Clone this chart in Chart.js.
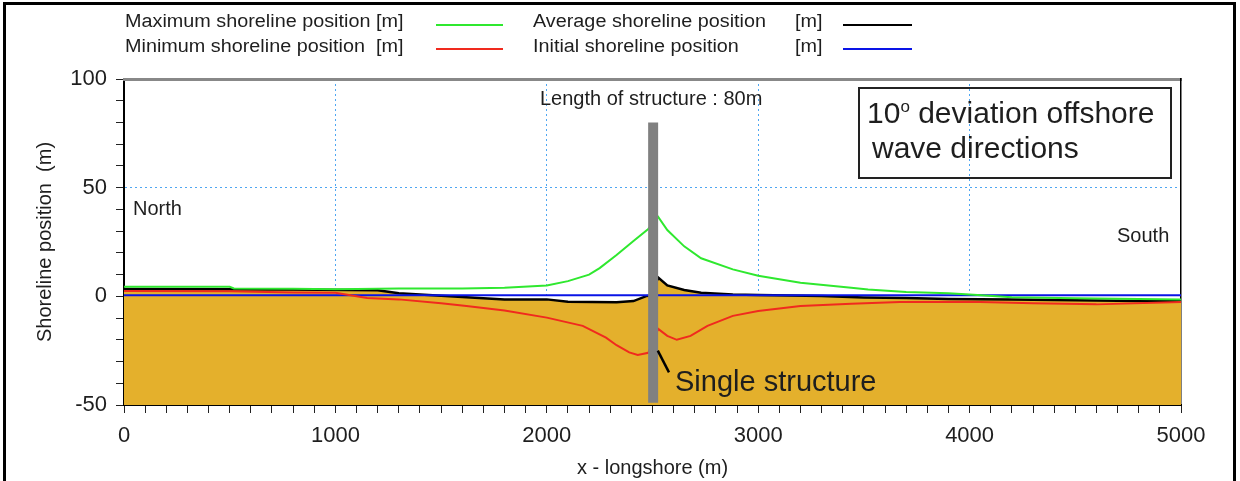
<!DOCTYPE html>
<html>
<head>
<meta charset="utf-8">
<script src="https://cdn.jsdelivr.net/npm/chart.js@4.4.0/dist/chart.umd.min.js"></script>
<style>
body{margin:0;background:#fff;font-family:"Liberation Sans",Arial,sans-serif;color:#1e1e1e}
#wrap{position:relative;width:1240px;height:481px;overflow:hidden}
#frame{position:absolute;left:3px;top:2px;width:1227px;height:500px;border:3px solid #000}
#chartShore{position:absolute;left:0;top:0}
.t{position:absolute;white-space:pre;font-size:20px;line-height:23px}
.lg{position:absolute;white-space:pre;font-size:18px;line-height:21px;transform:scaleX(1.1);transform-origin:0 0}
.sw{position:absolute;height:2px}
#box{position:absolute;left:858px;top:87px;width:310px;height:88px;border:2px solid #222}
</style>
</head>
<body>
<div id="wrap">
  <div id="frame"></div>
  <canvas id="chartShore" width="1240" height="481"></canvas>

  <!-- legend -->
  <div class="lg" style="left:125px;top:11px">Maximum shoreline position [m]</div>
  <div class="sw" style="left:436px;top:24px;width:67px;background:#2fe82f"></div>
  <div class="lg" style="left:125px;top:36px">Minimum shoreline position  [m]</div>
  <div class="sw" style="left:436px;top:48px;width:67px;background:#f02a1e"></div>
  <div class="lg" style="left:533px;top:11px">Average shoreline position</div>
  <div class="lg" style="left:795px;top:11px">[m]</div>
  <div class="sw" style="left:843px;top:24px;width:69px;background:#000"></div>
  <div class="lg" style="left:533px;top:36px">Initial shoreline position</div>
  <div class="lg" style="left:795px;top:36px">[m]</div>
  <div class="sw" style="left:843px;top:48px;width:69px;background:#0a14e6"></div>

  <!-- notes on the plot -->
  <div class="t" style="left:540px;top:87px">Length of structure : 80m</div>
  <div class="t" style="left:133px;top:197px">North</div>
  <div class="t" style="left:1117px;top:224px">South</div>
  <div class="t" style="left:675px;top:364px;font-size:29px;line-height:34px">Single structure</div>
  <div id="box"></div>
  <div class="t" style="left:867px;top:96px;font-size:30px;line-height:34px">10<span style="position:relative;top:-11px;font-size:17px">o</span> deviation offshore</div>
  <div class="t" style="left:872px;top:131px;font-size:30px;line-height:34px">wave directions</div>
</div>

<script>
// longshore positions (m) and shoreline positions (m)
const maxX = [0, 500, 520, 800, 1000, 1300, 1600, 1800, 2000, 2100, 2200, 2250, 2330, 2410, 2480,
              2527, 2570, 2650, 2730, 2880, 3000, 3200, 3440, 3520, 3700, 3900, 4000, 4200, 4500, 4800, 5000];
const maxY = [4.4, 4.4, 3.6, 3.5, 3.3, 3.6, 3.6, 4.0, 5.0, 7.0, 10.0, 13.0, 19.0, 25.5, 31.0,
              36.5, 30.5, 23.0, 17.5, 12.4, 9.5, 6.2, 4.0, 3.2, 2.0, 1.4, 0.8, -0.4, -0.9, -1.2, -1.4];

const minX = [0, 500, 800, 1000, 1150, 1300, 1500, 1620, 1800, 2000, 2170, 2280, 2330, 2390, 2430, 2480,
              2527, 2570, 2615, 2680, 2760, 2880, 3000, 3200, 3440, 3670, 4000, 4300, 4600, 5000];
const minY = [2.4, 2.3, 1.8, 1.6, -0.8, -1.4, -3.2, -4.4, -6.5, -9.8, -13.6, -19.0, -22.5, -25.8, -27.0, -26.0,
              -15.0, -18.2, -20.0, -18.2, -13.6, -9.0, -6.7, -4.4, -3.4, -2.6, -2.5, -3.2, -3.7, -2.6];

const avgX = [0, 500, 800, 1200, 1300, 1500, 1800, 2000, 2100, 2330, 2410, 2470, 2490,
              2527, 2570, 2650, 2730, 2880, 3000, 3300, 3500, 3700, 3900, 4200, 4500, 4800, 5000];
const avgY = [3.4, 3.3, 3.2, 2.8, 1.4, 0.3, -1.4, -1.4, -2.5, -2.7, -2.2, 0.1, 0.3,
              8.6, 5.0, 2.9, 1.6, 0.9, 0.6, 0.2, -0.5, -0.8, -1.2, -1.5, -1.8, -2.2, -2.3];

const initX = [0, 5000];
const initY = [0.5, 0.5];

// groyne: position and extent (m)
const structX = [2503, 2503];
const structY = [-49, 80];

const xTicks = [0, 1000, 2000, 3000, 4000, 5000];
const yTicks = [-50, 0, 50, 100];
const xGrid = [1000, 2000, 3000, 4000];
const yGrid = [50];

function pts(xs, ys) {
  return xs.map((x, i) => ({x: x, y: ys[i]}));
}

const gridBlue = '#4ea6f2';
const fontName = '"Liberation Sans", Arial, sans-serif';

// leader line from the structure to its label
const leader = {
  id: 'leader',
  afterDatasetsDraw(chart) {
    const {ctx, scales} = chart;
    ctx.save();
    ctx.strokeStyle = '#000';
    ctx.lineWidth = 2.5;
    ctx.beginPath();
    ctx.moveTo(scales.x.getPixelForValue(2525), scales.y.getPixelForValue(-25));
    ctx.lineTo(scales.x.getPixelForValue(2578), scales.y.getPixelForValue(-35));
    ctx.stroke();
    ctx.restore();
  }
};

const chartShore = document.getElementById('chartShore');

new Chart(chartShore, {
  type: 'line',
  data: {
    datasets: [{
      label: 'structure',
      data: pts(structX, structY),
      borderColor: '#808080',
      borderWidth: 10,
      borderCapStyle: 'butt',
      pointRadius: 0
    }, {
      label: 'Maximum shoreline position',
      data: pts(maxX, maxY),
      borderColor: '#2fe82f',
      borderWidth: 2,
      pointRadius: 0
    }, {
      label: 'Minimum shoreline position',
      data: pts(minX, minY),
      borderColor: '#f02a1e',
      borderWidth: 2,
      pointRadius: 0
    }, {
      label: 'Initial shoreline position',
      data: pts(initX, initY),
      borderColor: '#0a14e6',
      borderWidth: 2,
      pointRadius: 0
    }, {
      label: 'Average shoreline position',
      data: pts(avgX, avgY),
      borderColor: '#000',
      borderWidth: 2.5,
      pointRadius: 0,
      fill: 'start',
      backgroundColor: '#e4b02c'
    }]
  },
  options: {
    responsive: false,
    animation: false,
    layout: {padding: {left: 0, top: 79, right: 59, bottom: 0}},
    plugins: {
      legend: {display: false},
      tooltip: {enabled: false},
      filler: {drawTime: 'beforeDatasetsDraw'}
    },
    scales: {
      x: {
        type: 'linear',
        min: 0, max: 5000,
        afterFit: s => { s.height = 76; },
        border: {color: '#000', width: 2, dash: [2, 3]},
        grid: {
          color: c => c.tick && xGrid.includes(c.tick.value) ? gridBlue : 'rgba(0,0,0,0)',
          tickColor: '#222', tickLength: 8, lineWidth: 1
        },
        ticks: {
          stepSize: 100, autoSkip: false, maxRotation: 0, padding: 10,
          color: '#1e1e1e', font: {family: fontName, size: 22},
          callback: v => xTicks.includes(v) ? String(v) : ''
        },
        title: {
          display: true, text: 'x - longshore (m)', color: '#1e1e1e',
          font: {family: fontName, size: 20}, padding: {top: 0, bottom: 1}
        }
      },
      y: {
        min: -50, max: 100,
        afterFit: s => { s.width = 124; },
        border: {color: '#000', width: 2, dash: [2, 3]},
        grid: {
          color: c => c.tick && yGrid.includes(c.tick.value) ? gridBlue : 'rgba(0,0,0,0)',
          tickColor: '#222', tickLength: 8, lineWidth: 1
        },
        ticks: {
          stepSize: 10, autoSkip: false, padding: 9,
          color: '#1e1e1e', font: {family: fontName, size: 22},
          callback: v => yTicks.includes(v) ? String(v) : ''
        },
        title: {
          display: true, text: 'Shoreline position  (m)', color: '#1e1e1e',
          font: {family: fontName, size: 20}, padding: {top: 33, bottom: 0}
        }
      },
      xTop: {
        type: 'linear', position: 'top', min: 0, max: 5000,
        afterFit: s => { s.height = 0; },
        border: {color: '#888', width: 3},
        grid: {display: false},
        ticks: {display: false}
      },
      yRight: {
        type: 'linear', position: 'right', min: -50, max: 100,
        afterFit: s => { s.width = 0; },
        border: {color: '#000', width: 1.5},
        grid: {display: false},
        ticks: {display: false}
      }
    }
  },
  plugins: [leader]
});
</script>
</body>
</html>
